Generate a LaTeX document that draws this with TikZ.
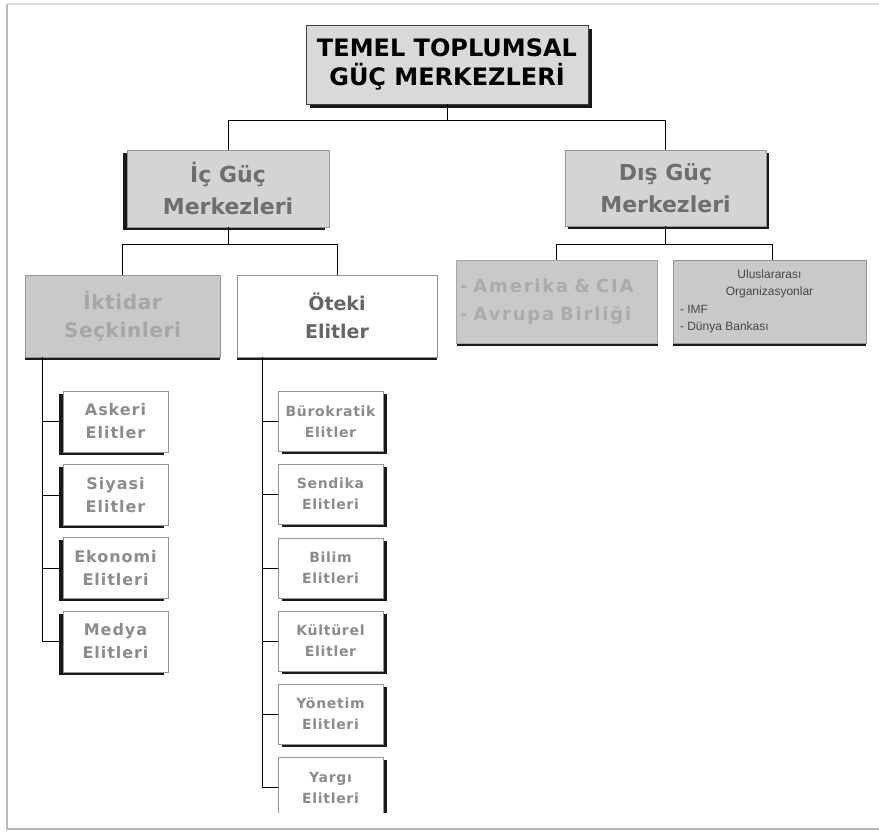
\documentclass[tikz,border=0pt]{standalone}
\usepackage{fontspec}
\setmainfont{DejaVu Sans}
\newfontfamily\orgfont{Liberation Sans}
\usetikzlibrary{positioning,shadows}

\tikzset{
  box/.style={draw=black!42, line width=0.8pt, inner sep=3pt, align=center},
  shd/.style 2 args={drop shadow={shadow xshift=#1, shadow yshift=#2, fill=black!90, opacity=1}},
  toptext/.style={font={\fontsize{24}{29}\selectfont\bfseries}},
  midtext/.style={font={\fontsize{22}{32}\selectfont\bfseries}, text=black!57},
  subtext/.style={font={\fontsize{20}{28}\selectfont\bfseries}},
  lefttext/.style={font={\fontsize{16}{23}\selectfont\bfseries\addfontfeatures{LetterSpace=6}}, text=black!45},
  righttext/.style={font={\fontsize{14}{21}\selectfont\bfseries\addfontfeatures{LetterSpace=5}}, text=black!45},
  link/.style={line width=0.9pt}
}

\begin{document}
\begin{tikzpicture}[x=1pt, y=-1pt]
    \useasboundingbox (0,0) rectangle (879,831);

    % Draw page frame
    \draw[black!12, line width=2pt] (7,4) -- (879,4);
    \draw[black!28, line width=2.5pt] (7,4) -- (7,829) -- (879,829);

    \begin{scope}
    \clip (8,6) rectangle (879,812);

    % Top level
    \node[box, shd={4pt}{-4pt}, fill=black!15, draw=black!75, minimum width=282pt, minimum height=79pt, toptext] (root) at (447,64.5) {TEMEL TOPLUMSAL\\GÜÇ MERKEZLERİ};

    % Second level
    \node[box, shd={-4pt}{-3pt}, fill=black!17, minimum width=202pt, minimum height=77pt, midtext] (ic) at (228,188.5) {İç Güç\\Merkezleri};
    \node[box, shd={3pt}{-3pt}, fill=black!17, minimum width=201pt, minimum height=76pt, midtext] (dis) at (665.5,188) {Dış Güç\\Merkezleri};

    % Third level
    \node[box, shd={0pt}{-3pt}, fill=black!21, minimum width=195pt, minimum height=82pt, subtext, text=black!35, font={\fontsize{20}{28}\selectfont\bfseries\addfontfeatures{LetterSpace=3}}] (iktidar) at (122.5,316) {İktidar\\Seçkinleri};
    \node[box, shd={0pt}{-3pt}, fill=white, minimum width=200pt, minimum height=82pt, subtext, text=black!60, font={\fontsize{19}{28}\selectfont\bfseries}] (oteki) at (337,316) {Öteki\\Elitler};
    \node[box, shd={1pt}{-3pt}, fill=black!21, draw=black!35, minimum width=201pt, minimum height=83pt, inner xsep=4pt, text width=193pt, align=left, text=black!33, font={\fontsize{18}{28}\selectfont\bfseries\addfontfeatures{LetterSpace=10}}] (amerika) at (556.5,301.5) {- Amerika \& CIA\\- Avrupa Birliği};
    \node[box, shd={0pt}{-3pt}, fill=black!21, minimum width=193pt, minimum height=83pt, inner xsep=7pt, text width=179pt, align=none, text=black!72, font={\orgfont\fontsize{12}{17.5}\selectfont}] (uluslar) at (769.5,301.5) {\centering Uluslararası\\Organizasyonlar\par\raggedright - IMF\\- Dünya Bankası\par};

    % Draw connectors of the upper levels
    \draw[link] (root.south) -- ++(0,16) -| (ic.north);
    \draw[link] (root.south) -- ++(0,16) -| (dis.north);
    \draw[link] (ic.south) -- ++(0,17) -| (iktidar.north);
    \draw[link] (ic.south) -- ++(0,17) -| (oteki.north);
    \draw[link] (dis.south) -- ++(0,18) -| (amerika.north);
    \draw[link] (dis.south) -- ++(0,18) -| ([xshift=3pt]uluslar.north);

    % Elites under Iktidar Seckinleri
    \foreach \n/\t/\y in {askeri/Askeri\\Elitler/421.5, siyasi/Siyasi\\Elitler/495, ekonomi/Ekonomi\\Elitleri/568, medya/Medya\\Elitleri/641.5} {
      \node[box, shd={-4pt}{-2.5pt}, fill=white, minimum width=105pt, minimum height=61pt, lefttext] (\n) at (115.5,\y) {\t};
      \draw[link] ([xshift=18pt]iktidar.south west |- \n.west) -- (\n.west);
    }
    \draw[link] ([xshift=18pt]iktidar.south west) -- ([xshift=18pt]iktidar.south west |- medya.west);

    % Elites under Oteki Elitler
    \foreach \n/\t/\y in {burokratik/Bürokratik\\Elitler/421.5, sendika/Sendika\\Elitleri/494, bilim/Bilim\\Elitleri/568, kulturel/Kültürel\\Elitler/641, yonetim/Yönetim\\Elitleri/714, yargi/Yargı\\Elitleri/787.5} {
      \node[box, shd={4pt}{-2.5pt}, fill=white, minimum width=105pt, minimum height=60pt, righttext] (\n) at (330.5,\y) {\t};
      \draw[link] ([xshift=26pt]oteki.south west |- \n.west) -- (\n.west);
    }
    \draw[link] ([xshift=26pt]oteki.south west) -- ([xshift=26pt]oteki.south west |- yargi.west);
    \end{scope}

  \end{tikzpicture}
\end{document}
